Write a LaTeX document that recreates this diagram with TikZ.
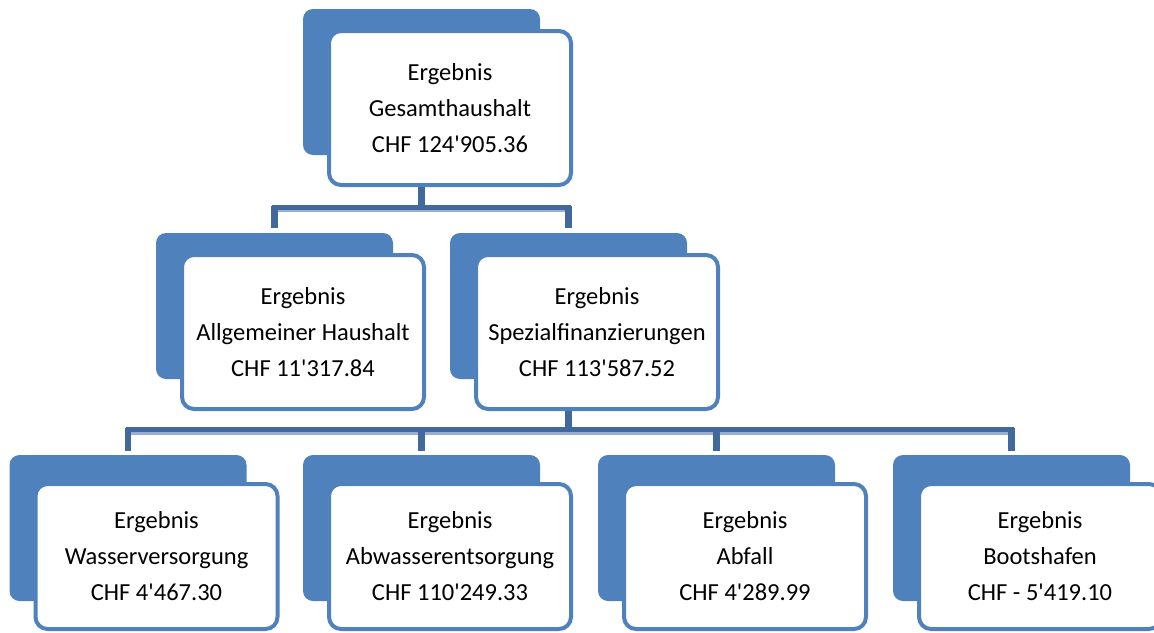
\documentclass[tikz,border=0pt]{standalone}
\usepackage{fontspec}
\setmainfont{Carlito}
\usetikzlibrary{backgrounds}
\definecolor{boxblue}{HTML}{4F81BD}
\definecolor{linedark}{HTML}{41699D}
\definecolor{linelight}{HTML}{98AFD2}
\newcommand{\apo}{\textquotesingle}
\begin{document}
\begin{tikzpicture}[x=1pt,y=-1pt,
  backbox/.style={fill=boxblue, rounded corners=10pt, minimum width=237pt, minimum height=146pt, inner sep=0pt},
  frontbox/.style={fill=white, draw=boxblue, line width=4pt, rounded corners=12pt, minimum width=242pt, minimum height=154pt, align=center, font=\fontsize{24.5}{36}\selectfont, inner sep=0pt},
  lowfront/.style={frontbox, minimum height=145pt},
  stem/.style={draw=linedark, line width=6.5pt},
  bar/.style={draw=linedark, line width=5pt, line cap=rect},
  barlight/.style={draw=linelight, line width=2.5pt, line cap=rect}]
\useasboundingbox (0,0) rectangle (1154,632);
% level 1
\node[backbox] (b0) at (421.5,82) {};
\node[frontbox] (f0) at (450,108) {Ergebnis\\Gesamthaushalt\\CHF 124\apo 905.36};
% level 2
\node[backbox] (b1) at (274.5,306) {};
\node[frontbox] (f1) at (303,332) {Ergebnis\\Allgemeiner Haushalt\\CHF 11\apo 317.84};
\node[backbox] (b2) at (568.5,306) {};
\node[frontbox] (f2) at (597,332) {Ergebnis\\Spezialfinanzierungen\\CHF 113\apo 587.52};
% level 3
\node[backbox] (b3) at (128,528) {};
\node[lowfront] (f3) at (156.5,556.5) {Ergebnis\\Wasserversorgung\\CHF 4\apo 467.30};
\node[backbox] (b4) at (421.5,528) {};
\node[lowfront] (f4) at (450,556.5) {Ergebnis\\Abwasserentsorgung\\CHF 110\apo 249.33};
\node[backbox] (b5) at (716.5,528) {};
\node[lowfront] (f5) at (745,556.5) {Ergebnis\\Abfall\\CHF 4\apo 289.99};
\node[backbox] (b6) at (1011.5,528) {};
\node[lowfront] (f6) at (1040,556.5) {Ergebnis\\Bootshafen\\CHF - 5\apo 419.10};
\begin{scope}[on background layer]
  % connectors level 1 -> 2
  \draw[stem] (b0.center) -- (b0.center |- 0,210);
  \draw[barlight] (b1.center |- 0,211) -- (b2.center |- 0,211);
  \draw[bar] (b1.center |- 0,207.5) -- (b2.center |- 0,207.5);
  \draw[stem] (b1.center |- 0,206) -- (b1.center |- 0,228);
  \draw[stem] (b2.center |- 0,206) -- (b2.center |- 0,228);
  % connectors level 2 -> 3
  \draw[stem] (b2.center) -- (b2.center |- 0,432);
  \draw[barlight] (b3.center |- 0,433.5) -- (b6.center |- 0,433.5);
  \draw[bar] (b3.center |- 0,429.5) -- (b6.center |- 0,429.5);
  \draw[stem] (b3.center |- 0,428) -- (b3.center |- 0,451);
  \draw[stem] (b4.center |- 0,428) -- (b4.center |- 0,451);
  \draw[stem] (b5.center |- 0,428) -- (b5.center |- 0,451);
  \draw[stem] (b6.center |- 0,428) -- (b6.center |- 0,451);
\end{scope}
\end{tikzpicture}
\end{document}
